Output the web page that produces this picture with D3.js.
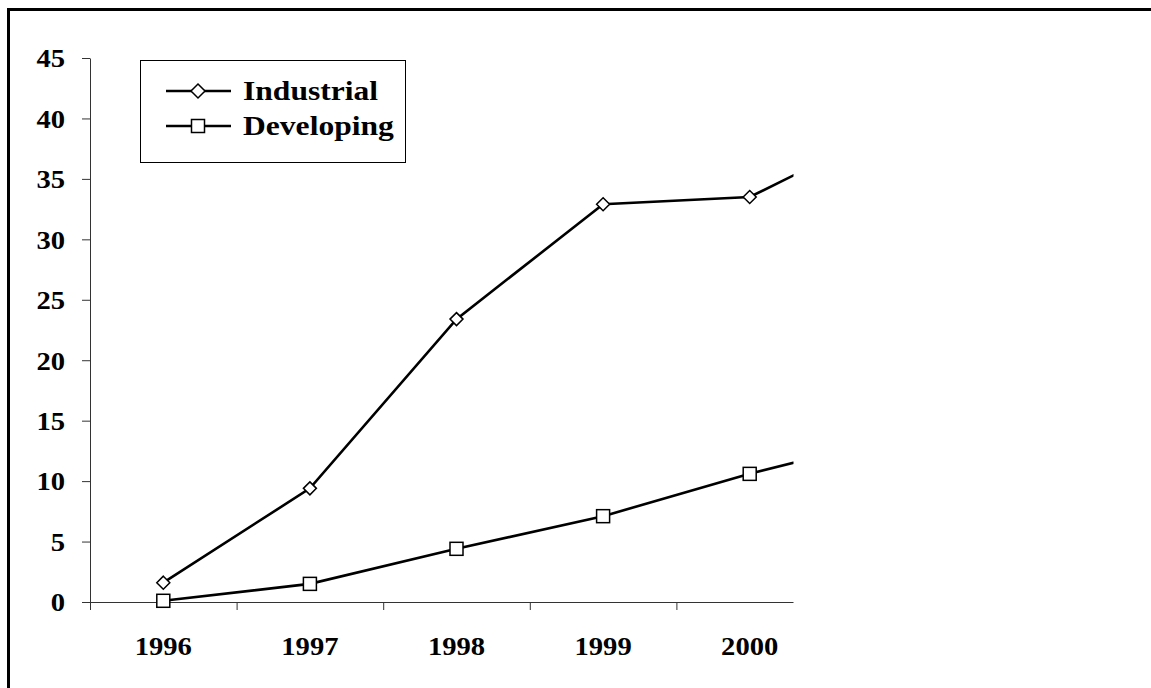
<!DOCTYPE html>
<html><head><meta charset="utf-8">
<script src="https://cdn.jsdelivr.net/npm/d3@7"></script>
<style>
html,body{margin:0;padding:0;background:#fff;}
svg{display:block;}
text{font-family:"Liberation Serif","Times New Roman",serif !important;font-weight:bold;fill:#000;}
</style></head>
<body>
<svg id="chart" width="1151" height="688"></svg>
<script>
// Data
const categories = ["1996","1997","1998","1999","2000","2001"];
const tickLabels = ["1996","1997","1998","1999","2000"];
const industrial = [1.6, 9.4, 23.4, 32.9, 33.5, 39.5];
const developing = [0.1, 1.5, 4.4, 7.1, 10.6, 13.7];
const seriesNames = ["Industrial","Developing"];
const yTicks = [0,5,10,15,20,25,30,35,40,45];

const svg = d3.select("#chart");
const W = 1151, H = 688;
svg.append("rect").attr("width",W).attr("height",H).attr("fill","#fff");
// outer frame (extends beyond right/bottom)
svg.append("rect").attr("x",8.5).attr("y",9.5).attr("width",1400).attr("height",1000)
  .attr("fill","none").attr("stroke","#000").attr("stroke-width",3);

const plotLeft = 90, plotTop = 58, plotBottom = 602, clipRight = 793;
const step = 146.6;
const x = d3.scaleLinear().domain([0, categories.length]).range([plotLeft, plotLeft + step*categories.length]);
const y = d3.scaleLinear().domain([0,45]).range([plotBottom, plotTop]);

svg.append("clipPath").attr("id","plotclip").append("rect")
  .attr("x",0).attr("y",0).attr("width",clipRight+0.5).attr("height",H);

const fs = 26, sx = 1.1;

// Y axis
const yAxis = svg.append("g").attr("transform",`translate(${plotLeft},0)`)
  .call(d3.axisLeft(y).tickValues(yTicks).tickSize(8).tickPadding(17).tickSizeOuter(0));
yAxis.select(".domain").attr("stroke","#333").attr("stroke-width",1);
yAxis.selectAll(".tick line").attr("stroke","#333");
yAxis.selectAll(".tick text").attr("font-size",fs).attr("fill","#000")
  .attr("x",-25/sx).attr("dy","0.34em").attr("transform",`scale(${sx},1)`);

// X axis (ticks at category boundaries)
const xg = svg.append("g").attr("clip-path","url(#plotclip)").append("g").attr("transform",`translate(0,${plotBottom})`);
xg.call(d3.axisBottom(x).tickValues(d3.range(0, categories.length)).tickSize(8).tickFormat("").tickSizeOuter(0));
xg.select(".domain").attr("stroke","#333").attr("stroke-width",1);
xg.selectAll(".tick line").attr("stroke","#333");

// X labels at category centers
svg.append("g").selectAll("g").data(tickLabels).join("g")
  .attr("transform",(d)=>`translate(${x(categories.indexOf(d)+0.5)},655) scale(${sx},1)`)
  .append("text")
  .attr("text-anchor","middle")
  .attr("font-size",fs)
  .text(d=>d);

// Lines
const line = d3.line().x((d,i)=>x(i+0.5)).y(d=>y(d));
const plot = svg.append("g").attr("clip-path","url(#plotclip)");
plot.append("path").datum(industrial).attr("d",line).attr("fill","none").attr("stroke","#000").attr("stroke-width",2.6);
plot.append("path").datum(developing).attr("d",line).attr("fill","none").attr("stroke","#000").attr("stroke-width",2.6);

const diamond = (cx,cy,r)=>`M${cx},${cy-r}L${cx+r},${cy}L${cx},${cy+r}L${cx-r},${cy}Z`;
plot.selectAll(".dm").data(industrial).join("path").attr("class","dm")
  .attr("d",(d,i)=>diamond(x(i+0.5),y(d),6.5))
  .attr("fill","#fff").attr("stroke","#000").attr("stroke-width",1.5);
plot.selectAll(".sq").data(developing).join("rect").attr("class","sq")
  .attr("x",(d,i)=>x(i+0.5)-6.5).attr("y",d=>y(d)-6.5).attr("width",13).attr("height",13)
  .attr("fill","#fff").attr("stroke","#000").attr("stroke-width",1.5);

// Legend
const lg = svg.append("g");
lg.append("rect").attr("x",140.5).attr("y",60.5).attr("width",265).attr("height",102)
  .attr("fill","#fff").attr("stroke","#000").attr("stroke-width",1);
const rows = [91, 126];
seriesNames.forEach((name,i)=>{
  const cy = rows[i];
  lg.append("line").attr("x1",166).attr("x2",231).attr("y1",cy).attr("y2",cy).attr("stroke","#000").attr("stroke-width",2.6);
  if(i===0){
    lg.append("path").attr("d",diamond(198,cy,7)).attr("fill","#fff").attr("stroke","#000").attr("stroke-width",1.5);
  } else {
    lg.append("rect").attr("x",191.5).attr("y",cy-6.5).attr("width",13).attr("height",13).attr("fill","#fff").attr("stroke","#000").attr("stroke-width",1.5);
  }
  lg.append("g").attr("transform",`translate(243,${cy+9}) scale(1.17,1)`)
    .append("text").attr("font-size",27).text(name);
});
</script>
</body></html>
